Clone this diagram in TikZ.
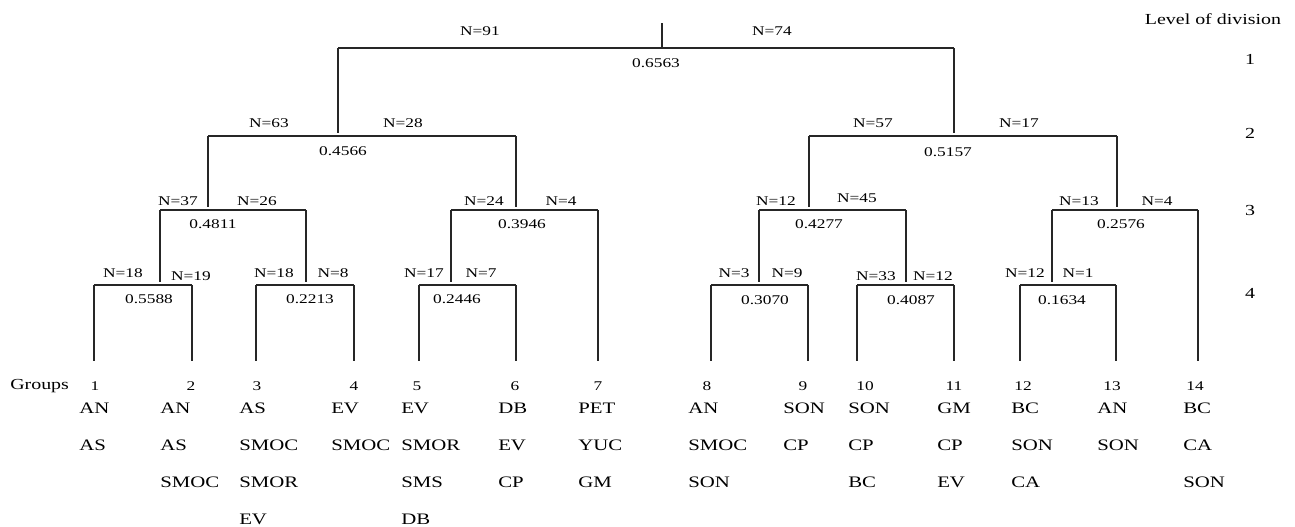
\documentclass[tikz,border=0pt]{standalone}
\usepackage{fontspec}
\setmainfont{Liberation Serif}[FakeStretch=1.3]
\begin{document}
\begin{tikzpicture}[x=0.75pt,y=-0.75pt,
  tree/.style={line width=0.9pt,draw=black!85},
  nlab/.style={inner sep=0pt,font=\fontsize{10}{12}\selectfont},
  vlab/.style={inner sep=0pt,font=\fontsize{10}{12}\selectfont},
  glab/.style={inner sep=0pt,anchor=west,font=\fontsize{12}{14}\selectfont},
  gnum/.style={inner sep=0pt,font=\fontsize{10}{12}\selectfont},
  lvl/.style={inner sep=0pt,font=\fontsize{11.5}{14}\selectfont}]
\useasboundingbox (0,0) rectangle (1295,526);
% root split
\coordinate (r0) at (662,23);
\coordinate (a-l) at (338,48); \coordinate (a-r) at (954,48); \coordinate (a-m) at (662,48);
\draw[tree] (r0) -- (a-m);
\draw[tree] (a-l) -- (a-r);
% lower splits: name / y / left x / right x / parent x / parent end
\foreach \n/\y/\xl/\xr/\xp/\pp in {
  b/136/208/516/338/a-l, c/136/809/1117/954/a-r,
  d/210/160/306/208/b-l, e/210/451/598/516/b-r,
  f/210/759/906/809/c-l, g/210/1052/1198/1117/c-r,
  h/285/94/192/160/d-l, i/285/256/354/306/d-r,
  j/285/419/516/451/e-l, k/285/711/808/759/f-l,
  l/285/857/954/906/f-r, m/285/1020/1116/1052/g-l}{
  \coordinate (\n-l) at (\xl,\y);
  \coordinate (\n-r) at (\xr,\y);
  \coordinate (\n-t) at (\xp,\y-3);
  \draw[tree] (\pp) -- (\n-t);
  \draw[tree] (\n-l) -- (\n-r);
}
% leaves
\foreach \n/\src/\x in {1/h-l/94, 2/h-r/192, 3/i-l/256, 4/i-r/354, 5/j-l/419,
  6/j-r/516, 7/e-r/598, 8/k-l/711, 9/k-r/808, 10/l-l/857, 11/l-r/954,
  12/m-l/1020, 13/m-r/1116, 14/g-r/1198}{
  \coordinate (leaf\n) at (\x,361);
  \draw[tree] (\src) -- (leaf\n);
}
% N labels
\foreach \k/\t/\x/\y in {1/N=91/480/31, 2/N=74/772/31,
  3/N=63/269/123, 4/N=28/403/123, 5/N=57/873/123, 6/N=17/1019/123,
  7/N=37/178/201, 8/N=26/257/201, 9/N=24/484/201, 10/N=4/561/201,
  11/N=12/776/201, 12/N=45/857/198, 13/N=13/1079/201, 14/N=4/1157/201,
  15/N=18/123/273, 16/N=19/191/276, 17/N=18/274/273, 18/N=8/333/273,
  19/N=17/424/273, 20/N=7/481/273, 21/N=3/734/273, 22/N=9/787/273,
  23/N=33/876/276, 24/N=12/933/276, 25/N=12/1025/273, 26/N=1/1078/273}{
  \node[nlab] (n\k) at (\x,\y) {\t};
}
% split values
\foreach \k/\t/\x/\y in {1/0.6563/656/63, 2/0.4566/343/151, 3/0.5157/948/152,
  4/0.4811/213/224, 5/0.3946/522/224, 6/0.4277/819/224, 7/0.2576/1121/224,
  8/0.5588/149/299, 9/0.2213/310/299, 10/0.2446/457/299, 11/0.3070/765/300,
  12/0.4087/911/300, 13/0.1634/1062/300}{
  \node[vlab] (v\k) at (\x,\y) {\t};
}
% level of division
\node[lvl] (lvtitle) at (1213,19) {Level of division};
\foreach \k/\y in {1/59, 2/133, 3/210, 4/293}{
  \node[lvl] (lv\k) at (1250,\y) {\k};
}
% groups
\node[lvl,anchor=west] (groups) at (10,386) {Groups};
\foreach \k/\x in {1/95, 2/191, 3/257, 4/354, 5/417, 6/515, 7/598, 8/707,
  9/803, 10/865, 11/954, 12/1023, 13/1112, 14/1195}{
  \node[gnum] (num\k) at (\x,386) {\k};
}
\foreach \g/\x/\r/\t in {
  1/79/1/AN, 1/79/2/AS,
  2/160/1/AN, 2/160/2/AS, 2/160/3/SMOC,
  3/239/1/AS, 3/239/2/SMOC, 3/239/3/SMOR, 3/239/4/EV,
  4/331/1/EV, 4/331/2/SMOC,
  5/401/1/EV, 5/401/2/SMOR, 5/401/3/SMS, 5/401/4/DB,
  6/498/1/DB, 6/498/2/EV, 6/498/3/CP,
  7/578/1/PET, 7/578/2/YUC, 7/578/3/GM,
  8/688/1/AN, 8/688/2/SMOC, 8/688/3/SON,
  9/783/1/SON, 9/783/2/CP,
  10/848/1/SON, 10/848/2/CP, 10/848/3/BC,
  11/937/1/GM, 11/937/2/CP, 11/937/3/EV,
  12/1011/1/BC, 12/1011/2/SON, 12/1011/3/CA,
  13/1097/1/AN, 13/1097/2/SON,
  14/1183/1/BC, 14/1183/2/CA, 14/1183/3/SON}{
  \node[glab] (lab\g-\r) at (\x,{371+37*\r}) {\t};
}
\end{tikzpicture}
\end{document}
